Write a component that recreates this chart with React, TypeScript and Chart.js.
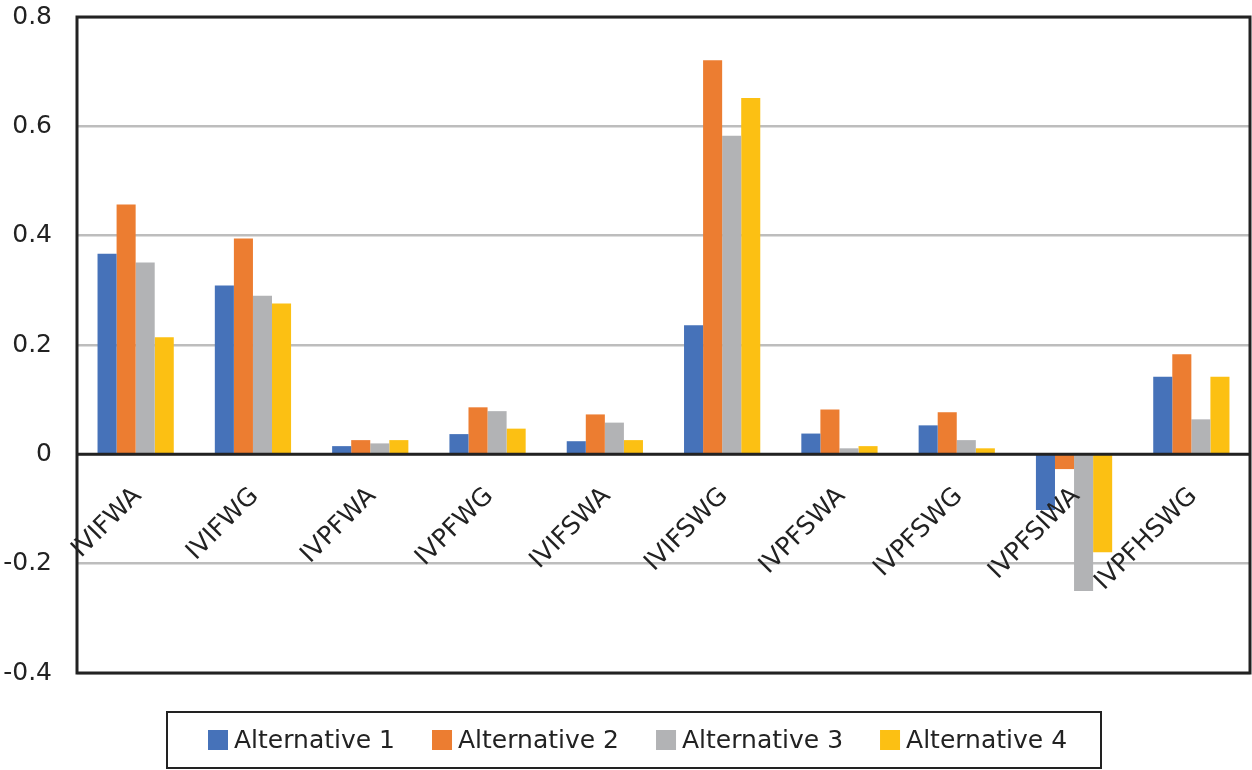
import React, { useEffect, useRef } from "react";
import { Chart, registerables } from "chart.js";

Chart.register(...registerables);

const categories = ["IVIFWA", "IVIFWG", "IVPFWA", "IVPFWG", "IVIFSWA", "IVIFSWG", "IVPFSWA", "IVPFSWG", "IVPFSIWA", "IVPFHSWG"];
const seriesNames = ["Alternative 1", "Alternative 2", "Alternative 3", "Alternative 4"];
const alt1 = [0.367, 0.309, 0.015, 0.037, 0.024, 0.236, 0.038, 0.053, -0.102, 0.142];
const alt2 = [0.457, 0.395, 0.026, 0.086, 0.073, 0.721, 0.082, 0.077, -0.027, 0.183];
const alt3 = [0.351, 0.290, 0.020, 0.079, 0.058, 0.583, 0.011, 0.026, -0.250, 0.064];
const alt4 = [0.214, 0.276, 0.026, 0.047, 0.026, 0.652, 0.015, 0.011, -0.179, 0.142];
const seriesColors = ["#4672B9", "#EC7D31", "#B2B3B5", "#FCC013"];
const yTickLabels = ["-0.4", "-0.2", "0", "0.2", "0.4", "0.6", "0.8"];
const yMin = -0.4;
const yMax = 0.8;
const yStep = 0.2;

const FONT = "'DejaVu Sans', sans-serif";
const TEXT = "#222222";

const overlayPlugin = {
  id: "overlay",
  afterDatasetsDraw(chart: any) {
    const { ctx, chartArea } = chart;
    const y = chart.scales.y;
    const x = chart.scales.x;
    const zeroY = y.getPixelForValue(0);
    ctx.save();
    // zero line
    ctx.strokeStyle = "#222222";
    ctx.lineWidth = 3;
    ctx.beginPath();
    ctx.moveTo(chartArea.left, zeroY);
    ctx.lineTo(chartArea.right, zeroY);
    ctx.stroke();
    // frame
    ctx.lineWidth = 3;
    ctx.strokeRect(chartArea.left, chartArea.top, chartArea.right - chartArea.left, chartArea.bottom - chartArea.top);
    // category labels
    ctx.fillStyle = TEXT;
    ctx.font = `25px ${FONT}`;
    ctx.textAlign = "right";
    ctx.textBaseline = "middle";
    categories.forEach((c, i) => {
      const cx = x.getPixelForValue(i);
      ctx.save();
      ctx.translate(cx + 2, zeroY + 38);
      ctx.rotate(-Math.PI / 4);
      ctx.fillText(c, 0, 0);
      ctx.restore();
    });
    ctx.restore();
  },
  afterDraw(chart: any) {
    const { ctx } = chart;
    ctx.save();
    const boxLeft = 167;
    const boxTop = 712;
    const boxW = 934;
    const boxH = 56;
    ctx.strokeStyle = "#222222";
    ctx.lineWidth = 2;
    ctx.strokeRect(boxLeft, boxTop, boxW, boxH);
    ctx.font = `25px ${FONT}`;
    ctx.textBaseline = "middle";
    ctx.textAlign = "left";
    let px = boxLeft + 41;
    const cy = boxTop + boxH / 2;
    chart.data.datasets.forEach((ds: any) => {
      ctx.fillStyle = ds.backgroundColor;
      ctx.fillRect(px, cy - 10, 20, 20);
      ctx.fillStyle = TEXT;
      ctx.fillText(ds.label, px + 26, cy + 1);
      px += 26 + ctx.measureText(ds.label).width + 37;
    });
    ctx.restore();
  },
};

export default function App() {
  const ref = useRef<HTMLCanvasElement | null>(null);
  useEffect(() => {
    if (!ref.current) return;
    const data = [alt1, alt2, alt3, alt4];
    const chart = new Chart(ref.current, {
      type: "bar",
      data: {
        labels: categories,
        datasets: seriesNames.map((name, i) => ({
          label: name,
          data: data[i],
          backgroundColor: seriesColors[i],
          borderWidth: 0,
          categoryPercentage: 0.65,
          barPercentage: 1.0,
        })),
      },
      options: {
        responsive: false,
        animation: false,
        layout: { padding: { top: 17, bottom: 97, left: 0, right: 2 } },
        plugins: { legend: { display: false }, tooltip: { enabled: false } },
        scales: {
          x: { display: false, grid: { display: false } },
          y: {
            min: yMin,
            max: yMax,
            border: { display: false },
            grid: {
              color: "#BDBDBD",
              lineWidth: 2.5,
              drawTicks: false,
              tickLength: 0,
            },
            ticks: {
              stepSize: yStep,
              padding: 25,
              color: TEXT,
              font: { family: FONT, size: 25 },
              callback: (_v: any, idx: number) => yTickLabels[idx],
            },
            afterFit: (scale: any) => {
              scale.width = 77;
              scale.paddingTop = 0;
              scale.paddingBottom = 0;
            },
          },
        },
      },
      plugins: [overlayPlugin],
    });
    return () => chart.destroy();
  }, []);
  return (
    <div style={{ position: "absolute", left: 0, top: 0, width: 1252, height: 770, background: "#fff" }}>
      <canvas ref={ref} width={1252} height={770} style={{ display: "block" }} />
    </div>
  );
}
